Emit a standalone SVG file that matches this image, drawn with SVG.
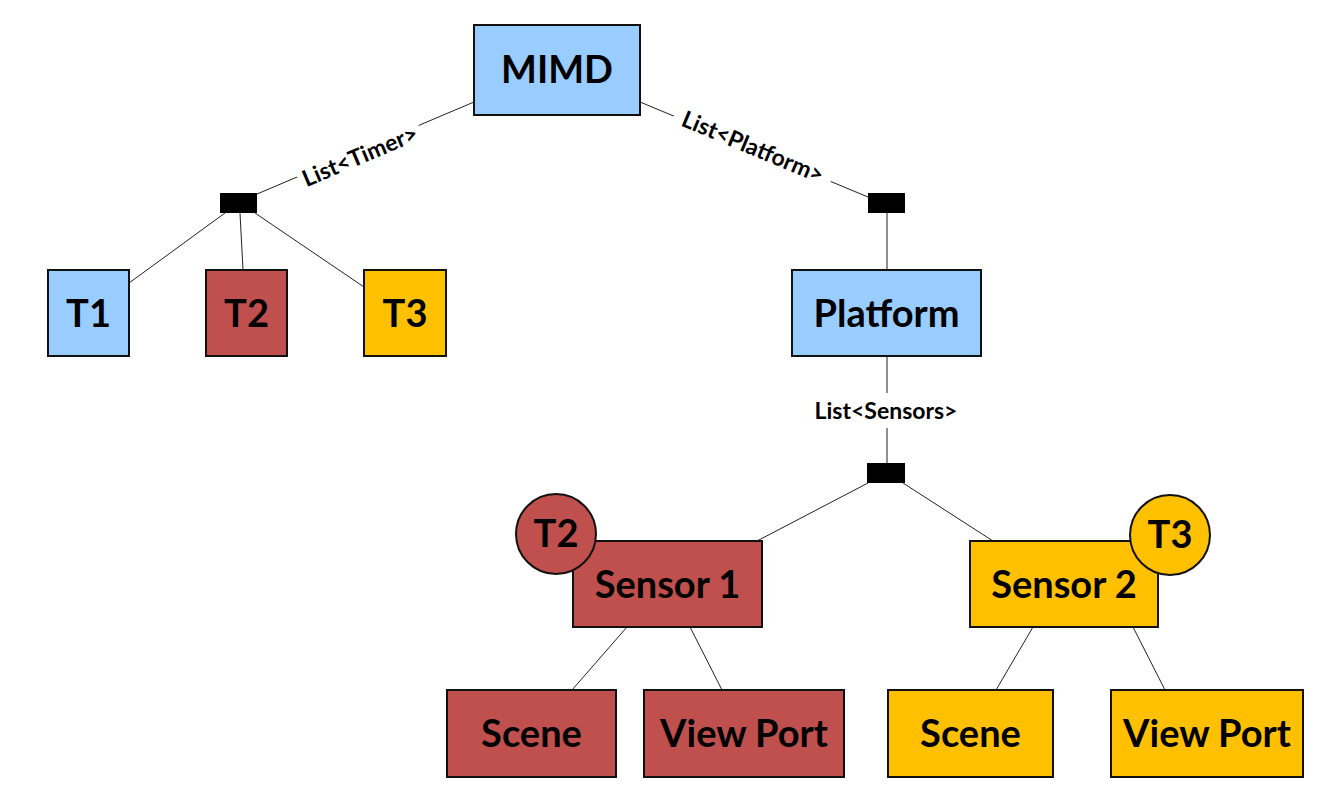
<svg xmlns="http://www.w3.org/2000/svg" width="1341" height="799" viewBox="0 0 1341 799">
<style>
.box{stroke:#111;stroke-width:2}
.blue{fill:#99CCFF}
.red{fill:#C0504D}
.gold{fill:#FFC000}
.t{font-family:Lato,"Liberation Sans",sans-serif;font-weight:bold;fill:#000;text-anchor:middle}
.big{font-size:38px}
.lbl{font-size:23px}
.ln{stroke:#222;stroke-width:1;fill:none}
.bar{fill:#000}
</style>
<rect width="1341" height="799" fill="#fff"/>
<g id="connectors">
<line class="ln" x1="474" y1="102" x2="257" y2="194"/>
<line class="ln" x1="640" y1="102" x2="868" y2="197"/>
<line class="ln" x1="225" y1="213" x2="129" y2="283"/>
<line class="ln" x1="240" y1="213" x2="243" y2="270"/>
<line class="ln" x1="255" y1="213" x2="364" y2="287"/>
<line class="ln" x1="887" y1="213" x2="887" y2="270"/>
<line class="ln" x1="887" y1="356" x2="887" y2="393"/>
<line class="ln" x1="887" y1="428" x2="887" y2="463"/>
<line class="ln" x1="868" y1="483" x2="757" y2="541"/>
<line class="ln" x1="903" y1="483" x2="993" y2="541"/>
<line class="ln" x1="627" y1="627" x2="572" y2="690"/>
<line class="ln" x1="690" y1="627" x2="722" y2="690"/>
<line class="ln" x1="1033" y1="627" x2="996" y2="690"/>
<line class="ln" x1="1133" y1="627" x2="1165" y2="690"/>
<g transform="translate(360,156) rotate(-22.8)">
<rect x="-66" y="-13" width="132" height="26" fill="#fff"/>
<text class="t lbl" x="0" y="8">List&lt;Timer&gt;</text>
</g>
<g transform="translate(753,147) rotate(22.6)">
<rect x="-85" y="-13" width="170" height="26" fill="#fff"/>
<text class="t lbl" x="0" y="8">List&lt;Platform&gt;</text>
</g>
<text class="t lbl" x="886" y="419">List&lt;Sensors&gt;</text>
</g>
<g id="bar1"><rect class="bar" x="220" y="193" width="37" height="20"/></g>
<g id="bar2"><rect class="bar" x="868" y="193" width="37" height="20"/></g>
<g id="bar3"><rect class="bar" x="867" y="463" width="38" height="20"/></g>
<g id="mimd"><rect class="box blue" x="474" y="25" width="166" height="90"/><text class="t big" x="557" y="83">MIMD</text></g>
<g id="t1"><rect class="box blue" x="48" y="270" width="81" height="86"/><text class="t big" x="88.5" y="327">T1</text></g>
<g id="t2"><rect class="box red" x="206" y="270" width="81" height="86"/><text class="t big" x="246.5" y="327">T2</text></g>
<g id="t3"><rect class="box gold" x="364" y="270" width="82" height="86"/><text class="t big" x="405" y="327">T3</text></g>
<g id="platform"><rect class="box blue" x="792" y="270" width="189" height="86"/><text class="t big" x="886.5" y="327">Platform</text></g>
<g id="sensor1"><rect class="box red" x="573" y="541" width="189" height="86"/><text class="t big" x="667.5" y="598">Sensor 1</text></g>
<g id="sensor1-timer"><circle class="box red" cx="556" cy="534" r="40"/><text class="t big" x="556" y="547">T2</text></g>
<g id="sensor2"><rect class="box gold" x="970" y="541" width="188" height="86"/><text class="t big" x="1064" y="598">Sensor 2</text></g>
<g id="sensor2-timer"><circle class="box gold" cx="1170" cy="535" r="40"/><text class="t big" x="1170" y="548">T3</text></g>
<g id="scene1"><rect class="box red" x="447" y="690" width="169" height="87"/><text class="t big" x="531.5" y="747">Scene</text></g>
<g id="viewport1"><rect class="box red" x="644" y="690" width="200" height="87"/><text class="t big" x="744" y="747">View Port</text></g>
<g id="scene2"><rect class="box gold" x="888" y="690" width="165" height="87"/><text class="t big" x="970.5" y="747">Scene</text></g>
<g id="viewport2"><rect class="box gold" x="1111" y="690" width="192" height="87"/><text class="t big" x="1207" y="747">View Port</text></g>
</svg>
